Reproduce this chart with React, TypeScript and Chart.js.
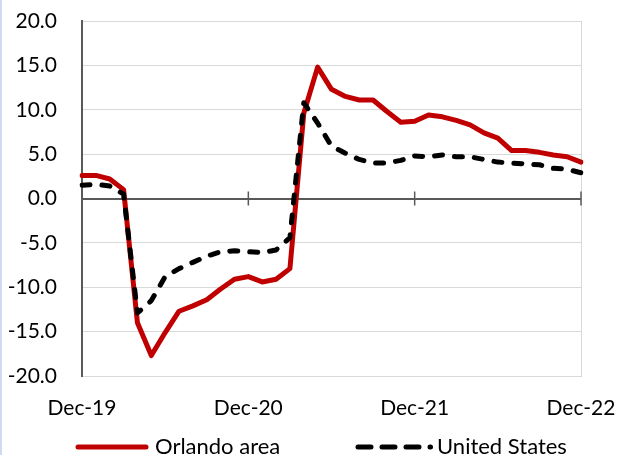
import React, { useEffect, useRef } from "react";
import { Chart, registerables } from "chart.js";

Chart.register(...registerables);

const months = [
  "Dec-19", "Jan-20", "Feb-20", "Mar-20", "Apr-20", "May-20", "Jun-20", "Jul-20", "Aug-20", "Sep-20", "Oct-20", "Nov-20",
  "Dec-20", "Jan-21", "Feb-21", "Mar-21", "Apr-21", "May-21", "Jun-21", "Jul-21", "Aug-21", "Sep-21", "Oct-21", "Nov-21",
  "Dec-21", "Jan-22", "Feb-22", "Mar-22", "Apr-22", "May-22", "Jun-22", "Jul-22", "Aug-22", "Sep-22", "Oct-22", "Nov-22",
  "Dec-22",
];

const orlando = [
  2.6, 2.6, 2.2, 1.0, -14.0, -17.7, -15.1, -12.7, -12.1, -11.4, -10.2, -9.1,
  -8.8, -9.4, -9.1, -7.9, 9.6, 14.8, 12.3, 11.5, 11.1, 11.1, 9.8, 8.6,
  8.7, 9.4, 9.2, 8.8, 8.3, 7.4, 6.8, 5.4, 5.4, 5.2, 4.9, 4.7,
  4.1,
];

const unitedStates = [
  1.5, 1.6, 1.4, 0.5, -12.9, -11.5, -8.8, -7.9, -7.2, -6.5, -6.0, -5.9,
  -6.0, -6.1, -5.8, -4.4, 10.8, 8.5, 5.9, 5.1, 4.4, 4.0, 4.0, 4.3,
  4.8, 4.7, 4.9, 4.7, 4.7, 4.4, 4.1, 4.0, 3.9, 3.8, 3.4, 3.3,
  2.9,
];

const seriesNames = ["Orlando area", "United States"];
const yMin = -20;
const yMax = 20;
const yStep = 5;

const FONT = "Lato, 'Open Sans', sans-serif";
const RED = "#C00000";
const AXIS = "#595959";
const GRID = "#d9d9d9";

export default function App() {
  const ref = useRef<HTMLCanvasElement | null>(null);

  useEffect(() => {
    if (!ref.current) return;

    const framePlugin = {
      id: "frame",
      beforeDatasetsDraw(chart: any) {
        const { ctx, chartArea } = chart;
        const ys = chart.scales.y;
        const xs = chart.scales.x;
        ctx.save();
        ctx.strokeStyle = GRID;
        ctx.lineWidth = 1;
        ctx.beginPath();
        ctx.moveTo(chartArea.right + 0.5, chartArea.top);
        ctx.lineTo(chartArea.right + 0.5, chartArea.bottom);
        ctx.stroke();
        const y0 = ys.getPixelForValue(0);
        ctx.strokeStyle = AXIS;
        ctx.lineWidth = 1.5;
        months.forEach((m, i) => {
          if (i > 0 && m.startsWith("Dec")) {
            const x = xs.getPixelForValue(i);
            ctx.beginPath();
            ctx.moveTo(x, y0 - 7);
            ctx.lineTo(x, y0 + 7);
            ctx.stroke();
          }
        });
        ctx.restore();
      },
      afterDraw(chart: any) {
        const { ctx } = chart;
        ctx.save();
        const ly = 447;
        ctx.lineCap = "round";
        ctx.lineWidth = 5;
        ctx.strokeStyle = RED;
        ctx.beginPath();
        ctx.moveTo(78, ly);
        ctx.lineTo(146, ly);
        ctx.stroke();

        ctx.strokeStyle = "#000";
        ctx.setLineDash([13, 11]);
        ctx.beginPath();
        ctx.moveTo(358, ly);
        ctx.lineTo(430.5, ly);
        ctx.stroke();
        ctx.setLineDash([]);

        ctx.fillStyle = "#000";
        ctx.font = `22px ${FONT}`;
        ctx.textBaseline = "alphabetic";
        ctx.textAlign = "left";
        ctx.fillText(seriesNames[0], 155, 454);
        ctx.fillText(seriesNames[1], 437, 454);
        ctx.restore();
      },
    };

    const chart = new Chart(ref.current, {
      type: "line",
      data: {
        labels: months,
        datasets: [
          {
            label: seriesNames[0],
            data: orlando,
            borderColor: RED,
            backgroundColor: RED,
            borderWidth: 5,
            pointRadius: 0,
            tension: 0,
            borderJoinStyle: "round",
            borderCapStyle: "round",
            order: 1,
          },
          {
            label: seriesNames[1],
            data: unitedStates,
            borderColor: "#000",
            backgroundColor: "#000",
            borderWidth: 5,
            borderDash: [8, 12],
            pointRadius: 0,
            tension: 0,
            borderJoinStyle: "round",
            borderCapStyle: "round",
            order: 0,
          },
        ],
      },
      options: {
        animation: false,
        responsive: false,
        maintainAspectRatio: false,
        layout: { padding: { left: 0, top: 21, right: 36, bottom: 0 } },
        plugins: {
          legend: { display: false },
          tooltip: { enabled: false },
        },
        scales: {
          x: {
            type: "category",
            offset: false,
            grid: {
              display: true,
              drawOnChartArea: false,
              drawTicks: true,
              tickLength: 20,
              color: "rgba(0,0,0,0)",
              tickColor: "rgba(0,0,0,0)",
            },
            border: { display: true, color: GRID, width: 1 },
            ticks: {
              autoSkip: false,
              maxRotation: 0,
              minRotation: 0,
              padding: 0,
              color: "#000",
              font: { family: FONT, size: 21 },
              callback: function (this: any, value: any) {
                const lab = months[value as number];
                return lab && lab.startsWith("Dec") ? lab : "";
              },
            },
            afterFit(scale: any) {
              scale.height = 455 - 376;
            },
          },
          y: {
            min: yMin,
            max: yMax,
            grid: {
              drawTicks: true,
              tickLength: 25,
              tickColor: "rgba(0,0,0,0)",
              color: (c: any) => (c.tick && c.tick.value === 0 ? AXIS : GRID),
              lineWidth: (c: any) => (c.tick && c.tick.value === 0 ? 2 : 1),
            },
            border: { display: true, color: AXIS, width: 2 },
            ticks: {
              stepSize: yStep,
              padding: 0,
              color: "#000",
              font: { family: FONT, size: 21 },
              callback: (v: any) => Number(v).toFixed(1),
            },
            afterFit(scale: any) {
              scale.width = 82;
            },
          },
        },
      },
      plugins: [framePlugin],
    });

    return () => chart.destroy();
  }, []);

  return (
    <div
      style={{
        position: "fixed",
        left: 0,
        top: 0,
        width: 617,
        height: 455,
        background: "#fff",
        overflow: "hidden",
      }}
    >
      <canvas ref={ref} width={617} height={455} style={{ display: "block" }} />
      <div
        style={{
          position: "absolute",
          left: 0,
          top: 0,
          width: 2,
          height: 455,
          background: "#cfdcf0",
        }}
      />
    </div>
  );
}
